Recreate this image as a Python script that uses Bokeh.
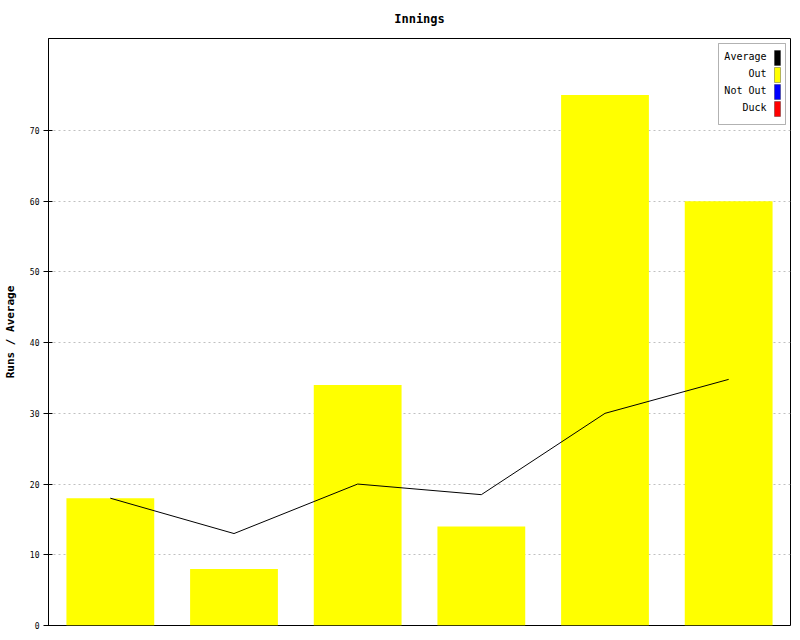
from bokeh.plotting import figure
from bokeh.models import ColumnDataSource, FixedTicker, BoxAnnotation, Label
from bokeh.embed import file_html
from bokeh.resources import INLINE

# ---- data ----
innings = ["1", "2", "3", "4", "5", "6"]
runs = [18, 8, 34, 14, 75, 60]
average = [18, 13, 20, 18.5, 30, 34.8]
y_ticks = [0, 10, 20, 30, 40, 50, 60, 70]
legend_labels = ["Average", "Out", "Not Out", "Duck"]
legend_colors = ["#000000", "#ffff00", "#0000ff", "#ff0000"]

Y_MAX = 83.0
FONT = "DejaVu Sans Mono"

W, H = 800, 640
BL, BR, BT, BB = 48, 10, 38, 15

p = figure(x_range=innings, y_range=(0, Y_MAX), width=W, height=H,
           output_backend="svg", toolbar_location=None,
           min_border_left=BL, min_border_right=BR, min_border_top=BT, min_border_bottom=BB)

p.title.text = "Innings"
p.title.align = "center"
p.title.text_font = FONT
p.title.text_font_size = "12px"
p.title.text_font_style = "bold"
p.title.text_color = "#000000"
p.title.offset = 0
p.title.standoff = 22
p.title.vertical_align = "top"

p.outline_line_color = "#000000"
p.outline_line_width = 1
p.background_fill_color = "white"
p.border_fill_color = "white"

p.x_range.range_padding = 0
p.xaxis.visible = False
p.xgrid.grid_line_color = None

p.yaxis.ticker = FixedTicker(ticks=y_ticks)
p.yaxis.axis_label = "Runs / Average"
p.yaxis.axis_label_text_font = FONT
p.yaxis.axis_label_text_font_size = "11px"
p.yaxis.axis_label_text_font_style = "bold"
p.yaxis.axis_label_text_color = "#000000"
p.yaxis.axis_label_standoff = 10
p.yaxis.major_label_text_font = FONT
p.yaxis.major_label_text_font_size = "8px"
p.yaxis.major_label_text_color = "#000000"
p.yaxis.major_label_standoff = 4
p.yaxis.major_tick_out = 5
p.yaxis.major_tick_in = 4
p.yaxis.major_tick_line_color = "#000000"
p.yaxis.minor_tick_line_color = None
p.yaxis.axis_line_color = "#000000"
p.ygrid.grid_line_color = "#c0c0c0"
p.ygrid.grid_line_dash = "2 3"

src = ColumnDataSource(dict(x=innings, runs=runs, avg=average))
p.vbar(x="x", top="runs", width=0.71, source=src, fill_color="#ffff00", line_color=None)
p.line(x="x", y="avg", source=src, line_color="#000000", line_width=1)

# ---- legend drawn manually (swatch on the right of the label) ----
FRAME_W = W - BL - BR
FRAME_H = H - BT - BB
def dx(px):  # pixel offset from frame left -> data x
    return px / FRAME_W * len(innings)
def dy(py):  # pixel offset from frame top -> data y
    return Y_MAX - py / FRAME_H * Y_MAX

p.add_layout(BoxAnnotation(left=dx(670), right=dx(737), top=dy(5), bottom=dy(86),
                           fill_color="white", fill_alpha=1, line_color="#000000",
                           line_width=1, level="overlay"))
for i, (lab, col) in enumerate(zip(legend_labels, legend_colors)):
    top = 12 + 17 * i
    p.add_layout(BoxAnnotation(left=dx(726), right=dx(732), top=dy(top), bottom=dy(top + 15),
                               fill_color=col, fill_alpha=1, line_color="#000000",
                               line_width=1, level="overlay"))
    p.add_layout(Label(x=dx(718), y=dy(top + 5.5), text=lab, text_align="right",
                       text_baseline="middle", text_font=FONT, text_font_size="10px",
                       text_color="#000000", level="overlay"))

open("out.html", "w").write(file_html(p, INLINE))
